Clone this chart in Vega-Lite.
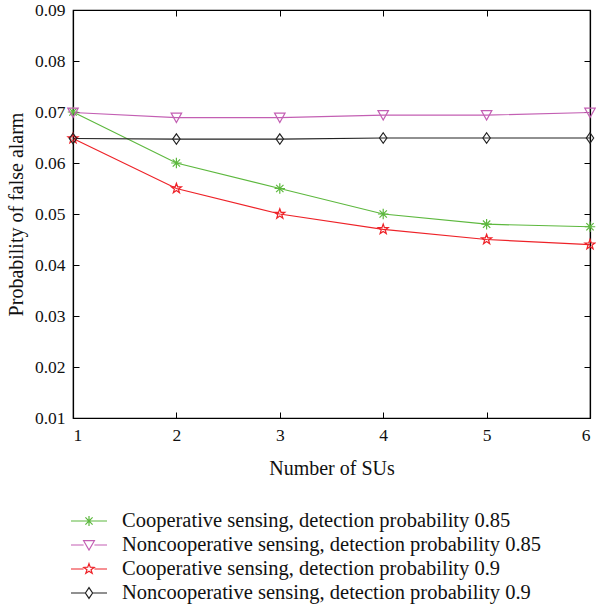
{
  "$schema": "https://vega.github.io/schema/vega-lite/v6.json",
  "width": 517,
  "height": 408,
  "autosize": {"type": "none"},
  "padding": {"left": 73, "top": 10, "right": 6, "bottom": 198},
  "background": "white",
  "config": {
    "font": "Liberation Serif",
    "view": {"stroke": "#000", "strokeWidth": 1.2},
    "axis": {
      "labelFont": "Liberation Serif",
      "titleFont": "Liberation Serif",
      "labelFontSize": 17.5,
      "titleFontSize": 20,
      "titleFontWeight": "normal",
      "labelColor": "#111",
      "titleColor": "#111",
      "domainColor": "#000",
      "tickColor": "#000",
      "grid": false,
      "tickSize": -6,
      "domainWidth": 1.2
    },
    "legend": {
      "labelFont": "Liberation Serif",
      "labelFontSize": 20.5,
      "labelColor": "#111",
      "labelLimit": 600
    }
  },
  "data": {
    "values": [
      {"series": "Cooperative sensing, detection probability 0.85", "x": 1, "y": 0.0700},
      {"series": "Cooperative sensing, detection probability 0.85", "x": 2, "y": 0.0600},
      {"series": "Cooperative sensing, detection probability 0.85", "x": 3, "y": 0.0550},
      {"series": "Cooperative sensing, detection probability 0.85", "x": 4, "y": 0.0500},
      {"series": "Cooperative sensing, detection probability 0.85", "x": 5, "y": 0.0480},
      {"series": "Cooperative sensing, detection probability 0.85", "x": 6, "y": 0.0475},
      {"series": "Noncooperative sensing, detection probability 0.85", "x": 1, "y": 0.0699},
      {"series": "Noncooperative sensing, detection probability 0.85", "x": 2, "y": 0.0689},
      {"series": "Noncooperative sensing, detection probability 0.85", "x": 3, "y": 0.0689},
      {"series": "Noncooperative sensing, detection probability 0.85", "x": 4, "y": 0.0694},
      {"series": "Noncooperative sensing, detection probability 0.85", "x": 5, "y": 0.0694},
      {"series": "Noncooperative sensing, detection probability 0.85", "x": 6, "y": 0.0699},
      {"series": "Cooperative sensing, detection probability 0.9", "x": 1, "y": 0.0648},
      {"series": "Cooperative sensing, detection probability 0.9", "x": 2, "y": 0.0550},
      {"series": "Cooperative sensing, detection probability 0.9", "x": 3, "y": 0.0500},
      {"series": "Cooperative sensing, detection probability 0.9", "x": 4, "y": 0.0470},
      {"series": "Cooperative sensing, detection probability 0.9", "x": 5, "y": 0.0450},
      {"series": "Cooperative sensing, detection probability 0.9", "x": 6, "y": 0.0440},
      {"series": "Noncooperative sensing, detection probability 0.9", "x": 1, "y": 0.0648},
      {"series": "Noncooperative sensing, detection probability 0.9", "x": 2, "y": 0.0647},
      {"series": "Noncooperative sensing, detection probability 0.9", "x": 3, "y": 0.0647},
      {"series": "Noncooperative sensing, detection probability 0.9", "x": 4, "y": 0.0649},
      {"series": "Noncooperative sensing, detection probability 0.9", "x": 5, "y": 0.0649},
      {"series": "Noncooperative sensing, detection probability 0.9", "x": 6, "y": 0.0649}
    ]
  },
  "layer": [
    {
      "mark": {"type": "line", "strokeWidth": 1.2},
      "encoding": {
        "x": {
          "field": "x", "type": "quantitative",
          "scale": {"domain": [1, 6], "nice": false},
          "axis": {"title": "Number of SUs", "values": [1, 2, 3, 4, 5, 6], "format": "d", "labelPadding": 14, "titlePadding": 15}
        },
        "y": {
          "field": "y", "type": "quantitative",
          "scale": {"domain": [0.01, 0.09], "nice": false, "zero": false},
          "axis": {"title": "Probability of false alarm", "values": [0.01, 0.02, 0.03, 0.04, 0.05, 0.06, 0.07, 0.08, 0.09], "format": ".2f", "labelPadding": 14, "titlePadding": 8}
        },
        "color": {
          "field": "series", "type": "nominal",
          "sort": ["Cooperative sensing, detection probability 0.85", "Noncooperative sensing, detection probability 0.85", "Cooperative sensing, detection probability 0.9", "Noncooperative sensing, detection probability 0.9"],
          "scale": {"domain": ["Cooperative sensing, detection probability 0.85", "Noncooperative sensing, detection probability 0.85", "Cooperative sensing, detection probability 0.9", "Noncooperative sensing, detection probability 0.9"], "range": ["#5db83e", "#c35fb3", "#ee2228", "#222222"]},
          "legend": {
            "title": null,
            "orient": "none",
            "legendX": 5,
            "legendY": 500,
            "direction": "vertical",
            "symbolSize": 400,
            "symbolStrokeWidth": 1.2,
            "symbolFillColor": "transparent",
            "labelOffset": 22,
            "rowPadding": 2,
            "encode": {
              "symbols": {
                "update": {
                  "fill": {"value": "transparent"},
                  "shape": {"signal": "indexof(datum.value, 'Noncooperative') === 0 ? (indexof(datum.value, '0.85') > 0 ? 'M-1.8,0H-0.54M0.54,0H1.8M-0.54,-0.43L0.54,-0.43L0,0.5Z' : 'M-1.8,0H-0.36M0.36,0H1.8M-0.36,0L0,-0.54L0.36,0L0,0.54Z') : (indexof(datum.value, '0.85') > 0 ? 'M-1.8,0H1.8M0,-0.5V0.5M-0.36,-0.36L0.36,0.36M-0.36,0.36L0.36,-0.36' : 'M-1.8,0H-0.54M0.54,0H1.8M0,-0.54L0.126,-0.18L0.52,-0.16L0.2,0.07L0.32,0.43L0,0.22L-0.32,0.43L-0.2,0.07L-0.52,-0.16L-0.126,-0.18Z')"}
                }
              }
            }
          }
        }
      }
    },
    {
      "mark": {"type": "point", "filled": false, "strokeWidth": 1.2, "size": 110, "opacity": 1},
      "encoding": {
        "x": {"field": "x", "type": "quantitative", "axis": null},
        "y": {"field": "y", "type": "quantitative", "axis": null},
        "color": {"field": "series", "type": "nominal", "legend": null},
        "shape": {
          "field": "series", "type": "nominal", "legend": null,
          "scale": {"domain": ["Cooperative sensing, detection probability 0.85", "Noncooperative sensing, detection probability 0.85", "Cooperative sensing, detection probability 0.9", "Noncooperative sensing, detection probability 0.9"],
            "range": ["M-1,0H1M0,-1V1M-0.7,-0.7L0.7,0.7M-0.7,0.7L0.7,-0.7", "M-1,-0.85L1,-0.85L0,0.95Z", "M0,-1L0.235,-0.324L0.951,-0.309L0.38,0.124L0.588,0.809L0,0.4L-0.588,0.809L-0.38,0.124L-0.951,-0.309L-0.235,-0.324Z", "M0,-1L0.7,0L0,1L-0.7,0Z"]}
        }
      }
    },
    {
      "mark": {"type": "point", "opacity": 0},
      "encoding": {
        "x": {"field": "x", "type": "quantitative", "axis": {"orient": "top", "values": [1, 2, 3, 4, 5, 6], "labels": false, "title": null}},
        "y": {"field": "y", "type": "quantitative", "axis": {"orient": "right", "values": [0.01, 0.02, 0.03, 0.04, 0.05, 0.06, 0.07, 0.08, 0.09], "labels": false, "title": null}}
      }
    }
  ],
  "resolve": {"axis": {"x": "independent", "y": "independent"}, "scale": {"shape": "independent"}}
}
